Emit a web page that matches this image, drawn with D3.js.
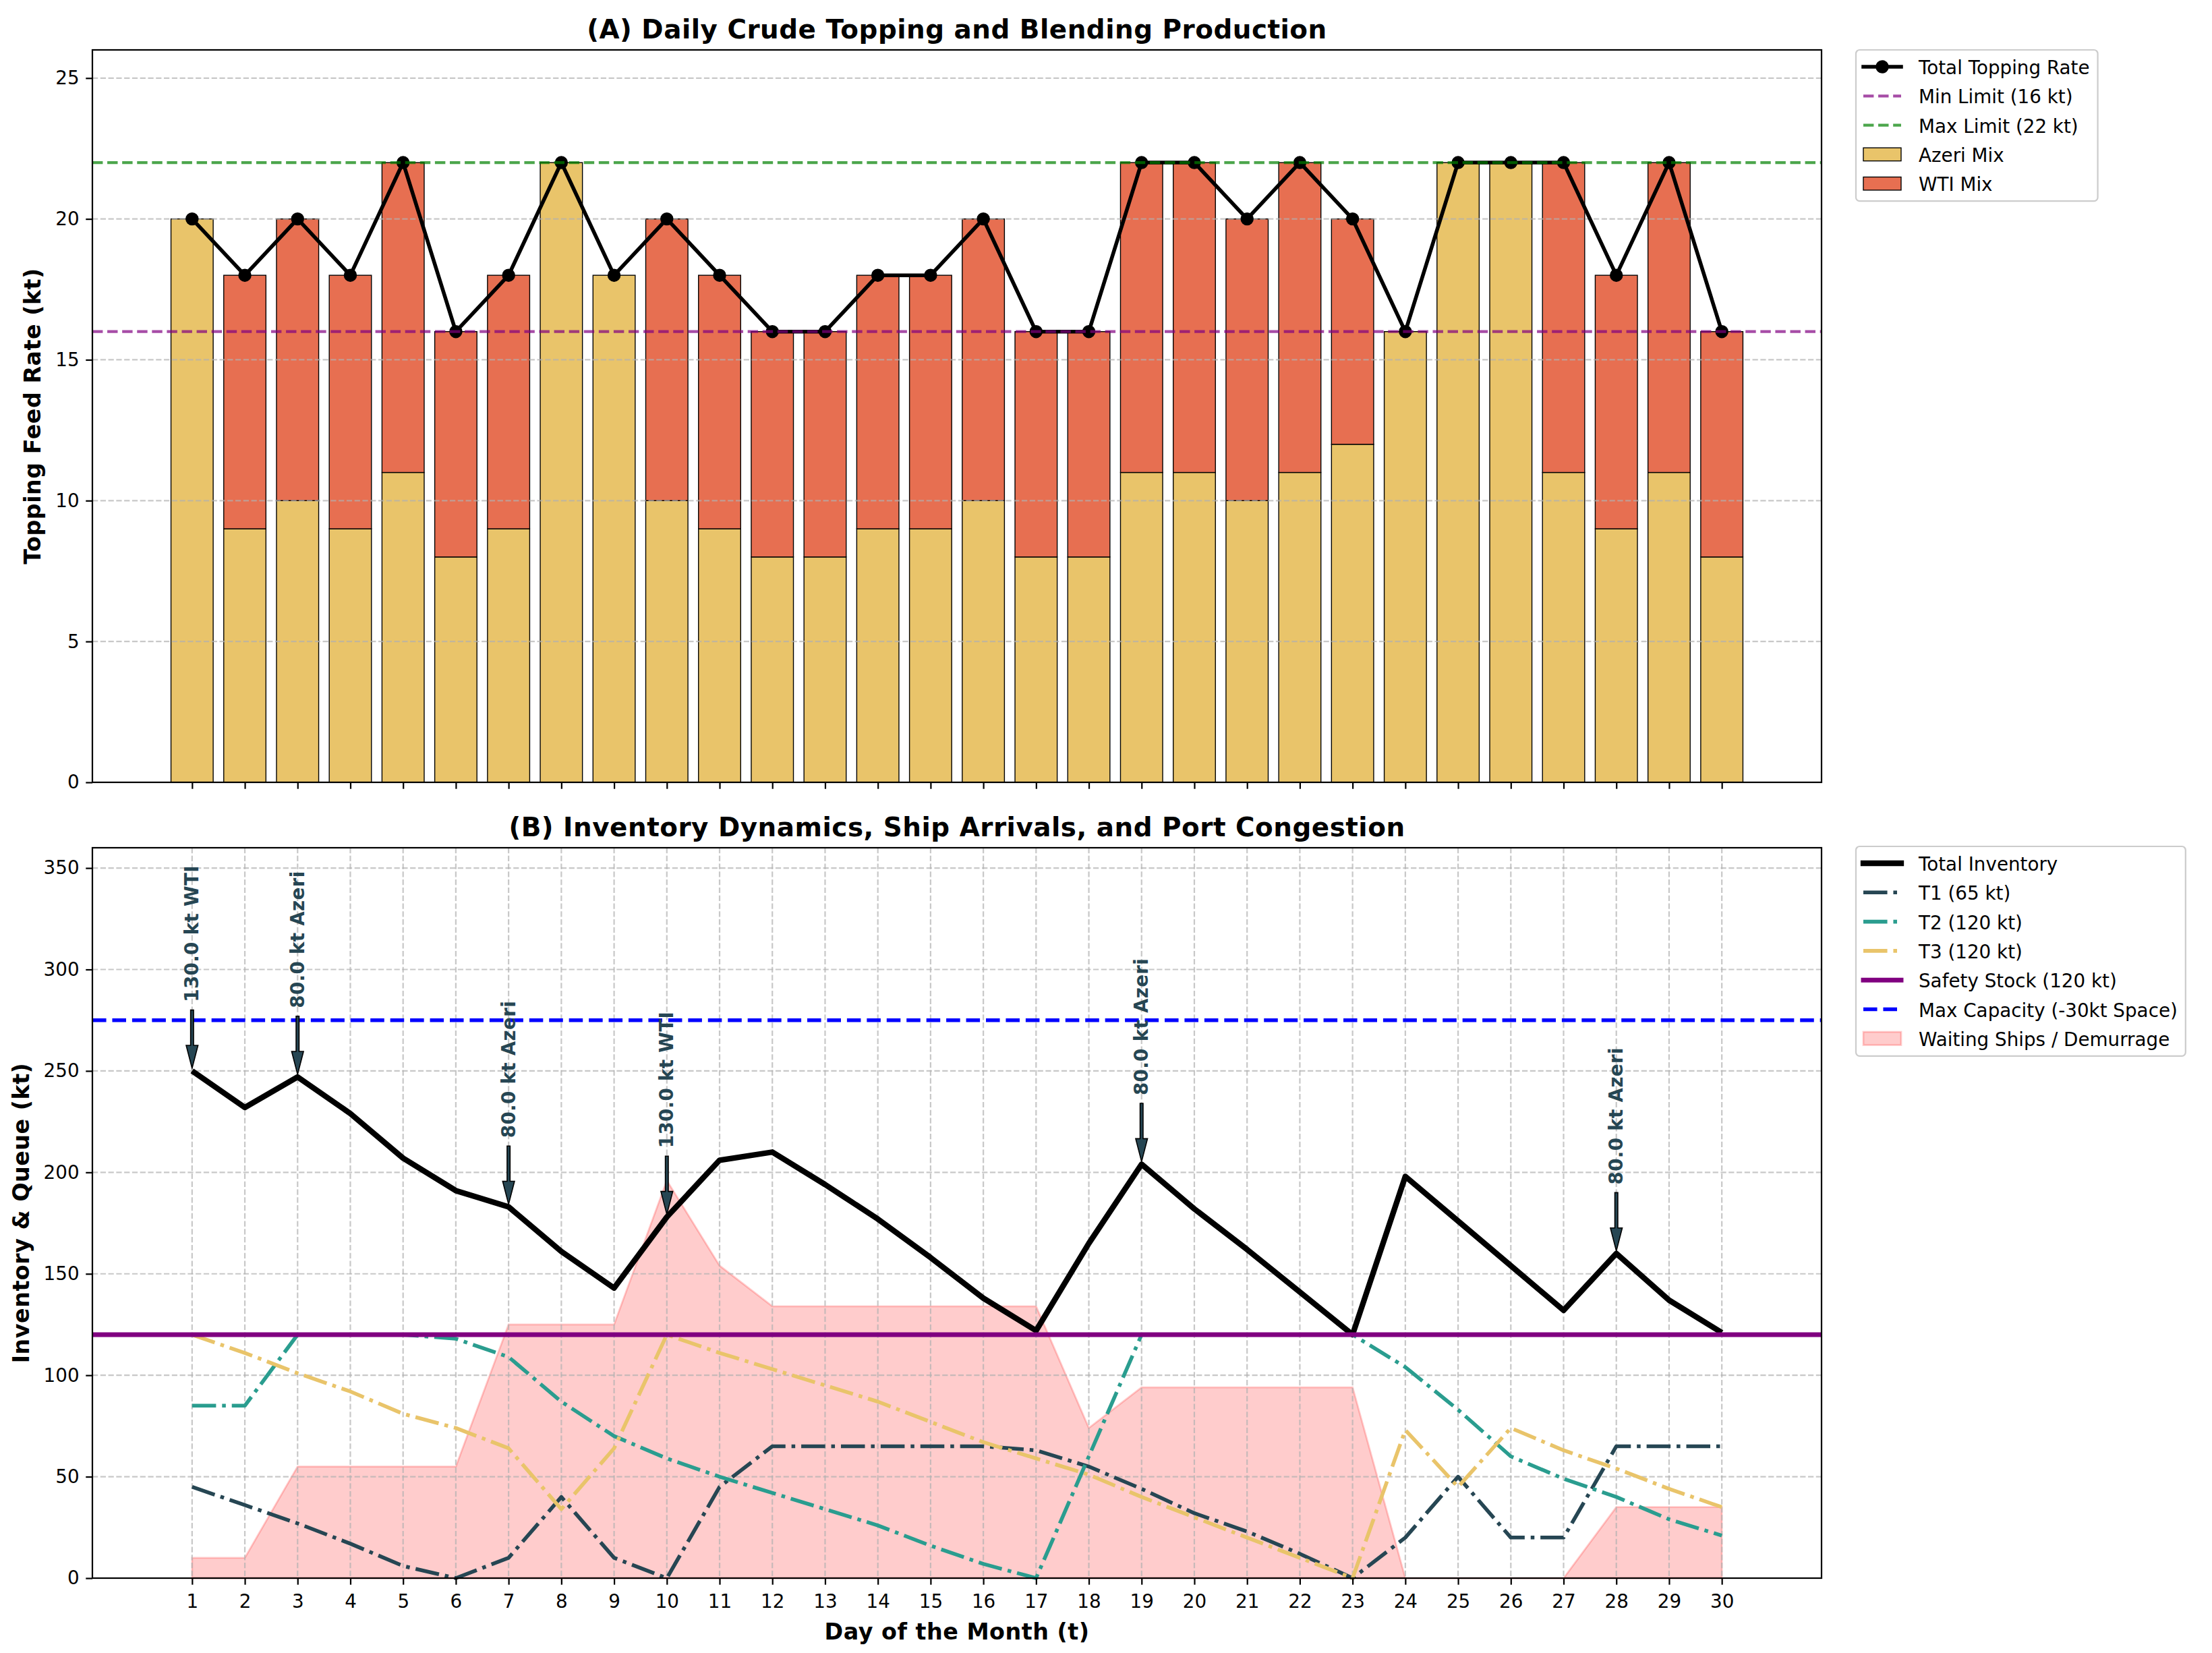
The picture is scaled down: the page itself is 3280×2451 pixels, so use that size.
<!DOCTYPE html>
<html>
<head>
<meta charset="utf-8">
<script src="https://cdn.jsdelivr.net/npm/d3@7"></script>
<style>
  body { margin: 0; background: #fff; }
  text { font-family: "DejaVu Sans", sans-serif; }
</style>
</head>
<body>
<svg id="chart" width="3280" height="2451"></svg>
<script>
// ---- data ----
const days = [1, 2, 3, 4, 5, 6, 7, 8, 9, 10, 11, 12, 13, 14, 15,
              16, 17, 18, 19, 20, 21, 22, 23, 24, 25, 26, 27, 28, 29, 30];

// panel A: daily topping feed (kt)
const azeriMix = [20, 9, 10, 9, 11, 8, 9, 22, 18, 10, 9, 8, 8, 9, 9,
                  10, 8, 8, 11, 11, 10, 11, 12, 16, 22, 22, 11, 9, 11, 8];
const wtiMix = [0, 9, 10, 9, 11, 8, 9, 0, 0, 10, 9, 8, 8, 9, 9,
                10, 8, 8, 11, 11, 10, 11, 8, 0, 0, 0, 11, 9, 11, 8];
const toppingRate = [20, 18, 20, 18, 22, 16, 18, 22, 18, 20, 18, 16, 16, 18, 18,
                     20, 16, 16, 22, 22, 20, 22, 20, 16, 22, 22, 22, 18, 22, 16];
const minLimit = 16;
const maxLimit = 22;
const topTicks = [0, 5, 10, 15, 20, 25];

// panel B: inventory (kt)
const totalInventory = [250, 232, 247, 229, 207, 191, 183, 161, 143, 178, 206, 210, 194, 177, 158,
                        138, 122, 165, 204, 182, 162, 141, 120, 198, 176, 154, 132, 160, 137, 121];
const tank1 = [45, 36, 27, 17, 6, 0, 10, 40, 10, 0, 45, 65, 65, 65, 65,
               65, 63, 55, 44, 32, 23, 12, 0, 20, 50, 20, 20, 65, 65, 65];
const tank2 = [85, 85, 120, 120, 120, 118, 109, 87, 70, 59, 50, 42, 34, 26, 16,
               7, 0, 60, 120, 120, 120, 120, 120, 104, 83, 60, 49, 40, 29, 21];
const tank3 = [120, 111, 101, 92, 81, 74, 64, 34, 64, 120, 111, 103, 95, 87, 77,
               67, 59, 51, 40, 30, 20, 10, 0, 73, 45, 74, 63, 54, 44, 35];
const waitingShips = [10, 10, 55, 55, 55, 55, 125, 125, 125, 196, 154, 134, 134, 134, 134,
                      134, 134, 74, 94, 94, 94, 94, 94, 0, 0, 0, 0, 35, 35, 35];
const safetyStock = 120;
const maxCapacity = 275;
const botTicks = [0, 50, 100, 150, 200, 250, 300, 350];

const arrivalDays = [1, 3, 7, 10, 19, 28];
const arrivalLabels = ["130.0 kt WTI", "80.0 kt Azeri", "80.0 kt Azeri",
                       "130.0 kt WTI", "80.0 kt Azeri", "80.0 kt Azeri"];

// ---- layout ----
const PT = 200 / 72;          // px per point
const FS = 10 * PT;           // tick / legend font
const axL = 137, axR = 2701;
const topY0 = 74, topY1 = 1160;
const botY0 = 1257, botY1 = 2340;
const midX = (axL + axR) / 2;
const boldSpacing = 0.5;      // bold text renders a touch wider in the reference

const C = {
    azeri: "#e9c46a", wti: "#e76f51",
    t1: "#264653", t2: "#2a9d8f", t3: "#e9c46a",
    minL: "rgba(128,0,128,0.7)", maxL: "rgba(0,128,0,0.7)",
    grid: "rgba(176,176,176,0.7)"
};

const svg = d3.select("#chart");
svg.append("rect").attr("width", 3280).attr("height", 2451).attr("fill", "#fff");

const x = d3.scaleLinear().domain([-0.89, 31.89]).range([axL, axR]);
const yTop = d3.scaleLinear().domain([0, 26]).range([topY1, topY0]);
const yBot = d3.scaleLinear().domain([0, 360]).range([botY1, botY0]);

const dashDot = [6.4 * 2 * PT, 1.6 * 2 * PT, 1 * 2 * PT, 1.6 * 2 * PT].join(",");
const dash = lw => [3.7 * lw * PT, 1.6 * lw * PT].join(",");

/**
 * Axis ticks + labels styled like matplotlib
 */
function styleAxis(g, showLabels) {
    g.select(".domain").remove();
    g.selectAll(".tick line").attr("stroke", "#000").attr("stroke-width", 0.8 * PT);
    g.selectAll(".tick text")
        .attr("font-size", FS)
        .attr("font-family", "DejaVu Sans")
        .attr("fill", "#000");
    if (!showLabels) g.selectAll(".tick text").remove();
}

function gridY(ticks, yScale) {
    svg.append("g").selectAll("line").data(ticks).join("line")
        .attr("x1", axL).attr("x2", axR)
        .attr("y1", d => yScale(d)).attr("y2", d => yScale(d))
        .attr("stroke", C.grid).attr("stroke-width", 0.8 * PT)
        .attr("stroke-dasharray", dash(0.8));
}

function gridX(ticks, y0, y1) {
    svg.append("g").selectAll("line").data(ticks).join("line")
        .attr("x1", d => x(d)).attr("x2", d => x(d))
        .attr("y1", y0).attr("y2", y1)
        .attr("stroke", C.grid).attr("stroke-width", 0.8 * PT)
        .attr("stroke-dasharray", dash(0.8));
}

function hline(value, yScale, color, lw, dasharray) {
    svg.append("line")
        .attr("x1", axL).attr("x2", axR)
        .attr("y1", yScale(value)).attr("y2", yScale(value))
        .attr("stroke", color).attr("stroke-width", lw * PT)
        .attr("stroke-dasharray", dasharray || null);
}

function seriesLine(values, yScale, color, lw, dasharray) {
    const line = d3.line().x((d, i) => x(days[i])).y(d => yScale(d));
    svg.append("path").datum(values)
        .attr("d", line)
        .attr("fill", "none")
        .attr("stroke", color).attr("stroke-width", lw * PT)
        .attr("stroke-linejoin", "round")
        .attr("stroke-dasharray", dasharray || null);
}

function spines(y0, y1) {
    svg.append("rect")
        .attr("x", axL).attr("y", y0)
        .attr("width", axR - axL).attr("height", y1 - y0)
        .attr("fill", "none").attr("stroke", "#000").attr("stroke-width", 0.8 * PT);
}

function title(text, baseline) {
    svg.append("text").attr("x", midX).attr("y", baseline)
        .attr("text-anchor", "middle").attr("font-size", 14 * PT)
        .attr("font-weight", "bold").attr("letter-spacing", boldSpacing)
        .text(text);
}

function yLabel(text, xBase, yMid) {
    svg.append("text")
        .attr("transform", `translate(${xBase},${yMid}) rotate(-90)`)
        .attr("text-anchor", "middle").attr("font-size", 12 * PT)
        .attr("font-weight", "bold").attr("letter-spacing", boldSpacing)
        .text(text);
}

/**
 * Legend box (upper left anchored just right of the axes)
 */
function legend(x0, y0, items) {
    const g = svg.append("g");
    const frame = g.append("rect");
    const rowH = 43.3, first = 25;
    const hx0 = x0 + 11, hx1 = x0 + 67, tx = x0 + 93;
    let maxW = 0;
    items.forEach((it, i) => {
        const cy = y0 + first + i * rowH;
        if (it.kind === "line") {
            g.append("line")
                .attr("x1", hx0).attr("x2", hx1).attr("y1", cy).attr("y2", cy)
                .attr("stroke", it.color).attr("stroke-width", it.lw * PT)
                .attr("stroke-linecap", it.dash ? "butt" : "square")
                .attr("stroke-dasharray", it.dash || null);
            if (it.marker) {
                g.append("circle").attr("cx", (hx0 + hx1) / 2).attr("cy", cy)
                    .attr("r", 8.35).attr("fill", it.color)
                    .attr("stroke", it.color).attr("stroke-width", PT);
            }
        } else {
            g.append("rect")
                .attr("x", hx0).attr("y", cy - 0.35 * FS)
                .attr("width", hx1 - hx0).attr("height", 0.7 * FS)
                .attr("fill", it.fill).attr("stroke", it.stroke)
                .attr("stroke-width", it.sw);
        }
        const t = g.append("text").attr("x", tx).attr("y", cy + 11)
            .attr("font-size", FS).text(it.label);
        maxW = Math.max(maxW, t.node().getComputedTextLength());
    });
    frame.attr("x", x0).attr("y", y0)
        .attr("width", tx + maxW + 12 - x0)
        .attr("height", first + (items.length - 1) * rowH + 26)
        .attr("rx", 5.5)
        .attr("fill", "rgba(255,255,255,0.8)")
        .attr("stroke", "#cccccc").attr("stroke-width", 0.8 * PT);
}

// ================= Panel A =================
const barW = x(0.8) - x(0);

svg.append("g").selectAll("rect").data(days).join("rect")
    .attr("x", (d) => x(d) - barW / 2)
    .attr("y", (d, i) => yTop(azeriMix[i]))
    .attr("width", barW)
    .attr("height", (d, i) => yTop(0) - yTop(azeriMix[i]))
    .attr("fill", C.azeri).attr("stroke", "#000").attr("stroke-width", 0.5 * PT);

svg.append("g").selectAll("rect").data(days.filter((d, i) => wtiMix[i] > 0)).join("rect")
    .attr("x", d => x(d) - barW / 2)
    .attr("y", d => yTop(azeriMix[d - 1] + wtiMix[d - 1]))
    .attr("width", barW)
    .attr("height", d => yTop(azeriMix[d - 1]) - yTop(azeriMix[d - 1] + wtiMix[d - 1]))
    .attr("fill", C.wti).attr("stroke", "#000").attr("stroke-width", 0.5 * PT);

gridY(topTicks, yTop);

seriesLine(toppingRate, yTop, "#000", 2);
svg.append("g").selectAll("circle").data(toppingRate).join("circle")
    .attr("cx", (d, i) => x(days[i])).attr("cy", d => yTop(d))
    .attr("r", 8.35).attr("fill", "#000")
    .attr("stroke", "#000").attr("stroke-width", PT);

hline(minLimit, yTop, C.minL, 1.5, dash(1.5));
hline(maxLimit, yTop, C.maxL, 1.5, dash(1.5));

spines(topY0, topY1);

svg.append("g").attr("transform", `translate(0,${topY1})`)
    .call(d3.axisBottom(x).tickValues(days).tickSize(3.5 * PT))
    .call(g => styleAxis(g, false));
svg.append("g").attr("transform", `translate(${axL},0)`)
    .call(d3.axisLeft(yTop).tickValues(topTicks).tickSize(3.5 * PT).tickPadding(3.5 * PT))
    .call(g => styleAxis(g, true));

title("(A) Daily Crude Topping and Blending Production", 57);
yLabel("Topping Feed Rate (kt)", 60, (topY0 + topY1) / 2);

legend(2752, 74, [
    { kind: "line", label: "Total Topping Rate", color: "#000", lw: 2, marker: true },
    { kind: "line", label: "Min Limit (16 kt)", color: C.minL, lw: 1.5, dash: dash(1.5) },
    { kind: "line", label: "Max Limit (22 kt)", color: C.maxL, lw: 1.5, dash: dash(1.5) },
    { kind: "rect", label: "Azeri Mix", fill: C.azeri, stroke: "#000", sw: 0.5 * PT },
    { kind: "rect", label: "WTI Mix", fill: C.wti, stroke: "#000", sw: 0.5 * PT }
]);

// ================= Panel B =================
const area = d3.area()
    .x((d, i) => x(days[i]))
    .y0(yBot(0))
    .y1(d => yBot(d));
svg.append("path").datum(waitingShips)
    .attr("d", d => area(d) + "Z")
    .attr("fill", "rgba(255,0,0,0.2)")
    .attr("stroke", "rgba(255,0,0,0.2)").attr("stroke-width", PT);

gridY(botTicks, yBot);
gridX(days, botY0, botY1);

seriesLine(totalInventory, yBot, "#000", 3);
seriesLine(tank1, yBot, C.t1, 2, dashDot);
seriesLine(tank2, yBot, C.t2, 2, dashDot);
seriesLine(tank3, yBot, C.t3, 2, dashDot);
hline(safetyStock, yBot, "#800080", 2.5);
hline(maxCapacity, yBot, "#0000ff", 2, dash(2));

spines(botY0, botY1);

svg.append("g").attr("transform", `translate(0,${botY1})`)
    .call(d3.axisBottom(x).tickValues(days).tickSize(3.5 * PT).tickPadding(3.5 * PT))
    .call(g => styleAxis(g, true))
    .call(g => g.selectAll(".tick text").attr("dy", "0.885em"));
svg.append("g").attr("transform", `translate(${axL},0)`)
    .call(d3.axisLeft(yBot).tickValues(botTicks).tickSize(3.5 * PT).tickPadding(3.5 * PT))
    .call(g => styleAxis(g, true));

// ship arrival annotations
const annot = svg.append("g");
arrivalDays.forEach((day, k) => {
    const inv = totalInventory[day - 1];
    const cx = x(day);
    const yTail = yBot(inv + 30), yTip = yBot(inv + 1.3);
    const hw = 2.2, hh = 8.8, hl = 34;
    annot.append("path")
        .attr("d", `M${cx - hw},${yTail} L${cx + hw},${yTail} L${cx + hw},${yTip - hl}
                    L${cx + hh},${yTip - hl} L${cx},${yTip} L${cx - hh},${yTip - hl}
                    L${cx - hw},${yTip - hl} Z`)
        .attr("fill", C.t1).attr("stroke", "#000").attr("stroke-width", 1.6)
        .attr("stroke-linejoin", "miter");
    const ty = yBot(inv + 34);
    annot.append("text")
        .attr("transform", `translate(${cx},${ty}) rotate(-90)`)
        .attr("dominant-baseline", "central")
        .attr("font-size", FS).attr("font-weight", "bold")
        .attr("letter-spacing", boldSpacing * 0.6)
        .attr("fill", C.t1)
        .text(arrivalLabels[k]);
});

title("(B) Inventory Dynamics, Ship Arrivals, and Port Congestion", 1240);
yLabel("Inventory & Queue (kt)", 43, (botY0 + botY1) / 2);
svg.append("text").attr("x", midX).attr("y", 2431)
    .attr("text-anchor", "middle").attr("font-size", 12 * PT)
    .attr("font-weight", "bold").attr("letter-spacing", boldSpacing)
    .text("Day of the Month (t)");

legend(2752, 1255, [
    { kind: "line", label: "Total Inventory", color: "#000", lw: 3 },
    { kind: "line", label: "T1 (65 kt)", color: C.t1, lw: 2, dash: dashDot },
    { kind: "line", label: "T2 (120 kt)", color: C.t2, lw: 2, dash: dashDot },
    { kind: "line", label: "T3 (120 kt)", color: C.t3, lw: 2, dash: dashDot },
    { kind: "line", label: "Safety Stock (120 kt)", color: "#800080", lw: 2.5 },
    { kind: "line", label: "Max Capacity (-30kt Space)", color: "#0000ff", lw: 2, dash: dash(2) },
    { kind: "rect", label: "Waiting Ships / Demurrage", fill: "rgba(255,0,0,0.2)",
      stroke: "rgba(255,0,0,0.2)", sw: PT }
]);
</script>
</body>
</html>
